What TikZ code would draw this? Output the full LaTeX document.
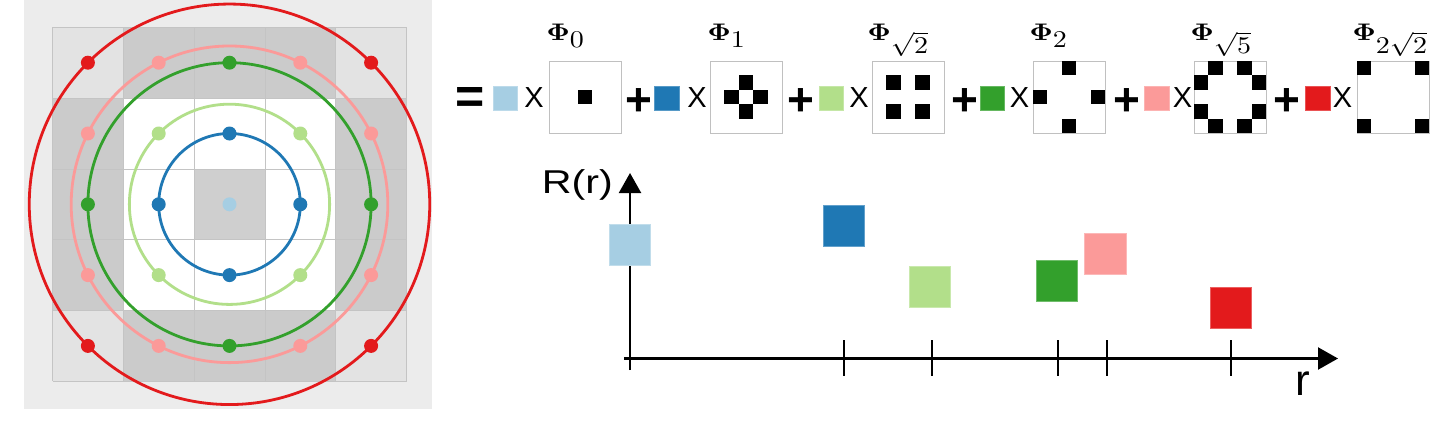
\documentclass[tikz,border=0pt]{standalone}
\usepackage{fix-cm}
\usepackage[no-math]{fontspec}
\newfontfamily\sff{Liberation Sans}
\usetikzlibrary{arrows.meta}
\definecolor{cA}{HTML}{A6CEE3}
\definecolor{cB}{HTML}{1F78B4}
\definecolor{cC}{HTML}{B2DF8A}
\definecolor{cD}{HTML}{33A02C}
\definecolor{cE}{HTML}{FB9A99}
\definecolor{cF}{HTML}{E31A1C}
\definecolor{bgA}{HTML}{ECECEC}
\definecolor{cornerC}{HTML}{E3E3E3}
\definecolor{darkC}{HTML}{CBCBCB}
\definecolor{centerC}{HTML}{CFCFCF}
\definecolor{gridC}{HTML}{C4C4C4}
\definecolor{boxC}{HTML}{C0C0C0}
\tikzset{
  ring/.style={line width=2.8pt},
  pbox/.style={draw=boxC, line width=1pt, minimum size=72pt, inner sep=0pt, fill=white},
  swatch/.style={minimum width=24.5pt, minimum height=24pt, inner sep=0pt, fill=#1, draw=#1!75!white, line width=0.6pt},
  rsq/.style={minimum width=41.5pt, minimum height=41pt, inner sep=0pt, fill=#1, draw=#1!70!white, line width=1pt},
  eqtext/.style={font=\sff\bfseries\fontsize{50}{56}\selectfont, inner sep=0pt, anchor=base},
  optext/.style={font=\sff\bfseries\fontsize{46}{52}\selectfont, inner sep=0pt, anchor=base},
  xtext/.style={font=\sff\fontsize{29}{34}\selectfont, inner sep=0pt, anchor=base},
  philab/.style={xscale=2.8, yscale=2.4, transform shape, inner sep=0pt, anchor=base west},
  axis/.style={line width=2.2pt, -{Triangle[length=20pt,width=22pt]}},
  tick/.style={line width=1.3pt},
}
\newcommand\cellpat[2]{%
  \foreach \a/\b in {#2} {\fill ([shift={(\a*14.4-7.2,\b*14.4-7.2)}]#1.center) rectangle ++(14.4,14.4);}%
}
\begin{document}
\begin{tikzpicture}[x=1pt,y=-1pt]
\useasboundingbox (0,0) rectangle (1434,431);
% ---------- left panel ----------
\fill[bgA] (24,0) rectangle (432,409);
\def\gx{52.5}\def\gy{27.3}\def\gs{70.8}
\foreach \c/\r in {0/0,4/0,0/4,4/4}
  \fill[cornerC] (\gx+\c*\gs,\gy+\r*\gs) rectangle ++(\gs,\gs);
\foreach \c/\r in {1/0,2/0,3/0,1/4,2/4,3/4,0/1,0/2,0/3,4/1,4/2,4/3}
  \fill[darkC] (\gx+\c*\gs,\gy+\r*\gs) rectangle ++(\gs,\gs);
\foreach \c/\r in {1/1,2/1,3/1,1/2,3/2,1/3,2/3,3/3}
  \fill[white] (\gx+\c*\gs,\gy+\r*\gs) rectangle ++(\gs,\gs);
\fill[centerC] (\gx+2*\gs,\gy+2*\gs) rectangle ++(\gs,\gs);
\foreach \k in {0,...,5} {
  \draw[gridC, line width=0.8pt] (\gx+\k*\gs,\gy) -- (\gx+\k*\gs,\gy+5*\gs);
  \draw[gridC, line width=0.8pt] (\gx,\gy+\k*\gs) -- (\gx+5*\gs,\gy+\k*\gs);
}
\coordinate (O) at (\gx+2.5*\gs,\gy+2.5*\gs);
\draw[ring, cF] (O) circle ({2.8284*\gs});
\draw[ring, cE] (O) circle ({2.2361*\gs});
\draw[ring, cD] (O) circle ({2*\gs});
\draw[ring, cC] (O) circle ({1.4142*\gs});
\draw[ring, cB] (O) circle ({\gs});
\foreach \a/\b in {-2/-2,2/-2,-2/2,2/2}
  \fill[cF] ([shift={(\a*\gs,\b*\gs)}]O) circle (7);
\foreach \a/\b in {-1/-2,1/-2,-1/2,1/2,-2/-1,2/-1,-2/1,2/1}
  \fill[cE] ([shift={(\a*\gs,\b*\gs)}]O) circle (7);
\foreach \a/\b in {0/-2,0/2,-2/0,2/0}
  \fill[cD] ([shift={(\a*\gs,\b*\gs)}]O) circle (7);
\foreach \a/\b in {-1/-1,1/-1,-1/1,1/1}
  \fill[cC] ([shift={(\a*\gs,\b*\gs)}]O) circle (7);
\foreach \a/\b in {0/-1,0/1,-1/0,1/0}
  \fill[cB] ([shift={(\a*\gs,\b*\gs)}]O) circle (7);
\fill[cA] (O) circle (7);
% ---------- equation row ----------
\node[eqtext] (eq) at (470,113) {=};
% box 0
\node[swatch=cA] (s0) at (505.5,98) {};
\node[xtext] (x0) at (534,107.5) {X};
\node[pbox] (b0) at (585,97) {};
\cellpat{b0}{0/0}
\node[philab] (l0) at (546,40) {$\mathbf{\Phi}_{\textstyle 0}$};
% box 1
\node[optext] (p1) at (638.5,115) {+};
\node[swatch=cB] (s1) at (667,98) {};
\node[xtext] (x1) at (697,107.5) {X};
\node[pbox] (b1) at (746,97) {};
\cellpat{b1}{0/-1,-1/0,1/0,0/1}
\node[philab] (l1) at (707,40) {$\mathbf{\Phi}_{\textstyle 1}$};
% box 2
\node[optext] (p2) at (801,115) {+};
\node[swatch=cC] (s2) at (831.5,98) {};
\node[xtext] (x2) at (859,107.5) {X};
\node[pbox] (b2) at (908,97) {};
\cellpat{b2}{-1/-1,1/-1,-1/1,1/1}
\node[philab] (l2) at (867,40) {$\mathbf{\Phi}_{\textstyle\sqrt{2}}$};
% box 3
\node[optext] (p3) at (964.5,115) {+};
\node[swatch=cD] (s3) at (992.5,98) {};
\node[xtext] (x3) at (1019.5,107.5) {X};
\node[pbox] (b3) at (1069,97) {};
\cellpat{b3}{0/-2,-2/0,2/0,0/2}
\node[philab] (l3) at (1029,40) {$\mathbf{\Phi}_{\textstyle 2}$};
% box 4
\node[optext] (p4) at (1127,115) {+};
\node[swatch=cE] (s4) at (1157,98) {};
\node[xtext] (x4) at (1182.5,107.5) {X};
\node[pbox] (b4) at (1230,97) {};
\cellpat{b4}{-1/-2,1/-2,-2/-1,2/-1,-2/1,2/1,-1/2,1/2}
\node[philab] (l4) at (1190,40) {$\mathbf{\Phi}_{\textstyle\sqrt{5}}$};
% box 5
\node[optext] (p5) at (1286.5,115) {+};
\node[swatch=cF] (s5) at (1318,98) {};
\node[xtext] (x5) at (1342.5,107.5) {X};
\node[pbox] (b5) at (1393,97) {};
\cellpat{b5}{-2/-2,2/-2,-2/2,2/2}
\node[philab] (l5) at (1352,40) {$\mathbf{\Phi}_{\textstyle 2\sqrt{2}}$};
% ---------- plot ----------
\coordinate (yb) at (630,370);
\coordinate (yt) at (630,173);
\coordinate (xl) at (624,358.5);
\coordinate (xt) at (1338,358.5);
\draw[axis] (yb) -- (yt);
\draw[axis] (xl) -- (xt);
\foreach \t in {844,932,1058,1107,1231}
  \draw[tick] (\t,340) -- (\t,376);
\node[rsq=cA] (q0) at (630,244.5) {};
\node[rsq=cB] (q1) at (844,226) {};
\node[rsq=cC] (q2) at (930,286.5) {};
\node[rsq=cD] (q3) at (1057,280.5) {};
\node[rsq=cE] (q4) at (1105.5,253.5) {};
\node[rsq=cF] (q5) at (1231,308) {};
\node[font=\sff\fontsize{33}{40}\selectfont, xscale=1.25, transform shape, inner sep=0pt, anchor=base east] (Rl) at (613,193) {R(r)};
\node[font=\sff\fontsize{44}{50}\selectfont, inner sep=0pt, anchor=base] (rl) at (1303,395) {r};
\end{tikzpicture}
\end{document}
